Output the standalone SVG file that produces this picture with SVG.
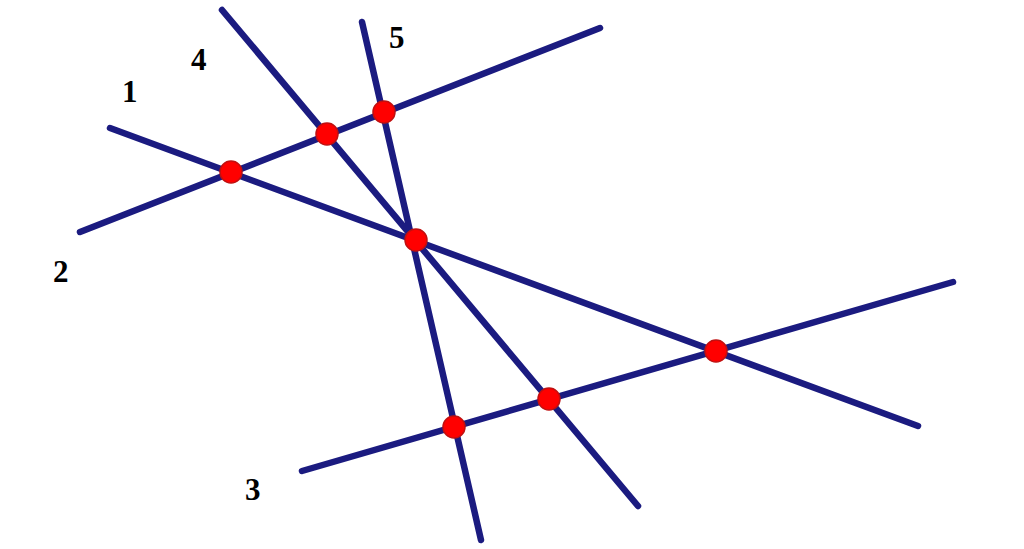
<svg xmlns="http://www.w3.org/2000/svg" width="1024" height="549" viewBox="0 0 1024 549">
<style>
.ln{stroke:#1b1b80;stroke-width:6.5;stroke-linecap:round;fill:none}
.pt{fill:#ff0000;stroke:#c01010;stroke-width:1.5}
.lb{font-family:"Liberation Serif",serif;font-weight:bold;font-size:31px;fill:#000}
</style>
<rect width="1024" height="549" fill="#fff"/>
<g id="connectors">
<line id="line1" class="ln" x1="110" y1="128" x2="918" y2="426"/>
<line id="line2" class="ln" x1="80" y1="232" x2="600" y2="28"/>
<line id="line3" class="ln" x1="302" y1="471" x2="953" y2="282"/>
<line id="line4" class="ln" x1="222" y1="10" x2="638" y2="506"/>
<line id="line5" class="ln" x1="362" y1="22" x2="481" y2="540"/>
</g>
<g id="p12"><circle class="pt" cx="231" cy="172" r="11"/></g>
<g id="p24"><circle class="pt" cx="327" cy="134" r="11"/></g>
<g id="p25"><circle class="pt" cx="384" cy="112" r="11"/></g>
<g id="p145"><circle class="pt" cx="416" cy="240" r="11"/></g>
<g id="p13"><circle class="pt" cx="716" cy="351" r="11"/></g>
<g id="p34"><circle class="pt" cx="549" cy="399" r="11"/></g>
<g id="p35"><circle class="pt" cx="454" cy="427" r="11"/></g>
<g id="labels">
<text class="lb" x="122" y="102">1</text>
<text class="lb" x="53" y="282">2</text>
<text class="lb" x="245" y="500">3</text>
<text class="lb" x="191" y="70">4</text>
<text class="lb" x="389" y="48">5</text>
</g>
</svg>
